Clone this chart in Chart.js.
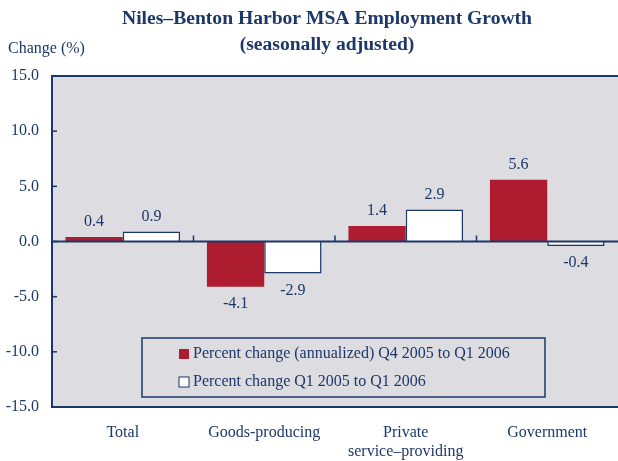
<!DOCTYPE html>
<html>
<head>
<meta charset="utf-8">
<script src="https://cdn.jsdelivr.net/npm/chart.js@4"></script>
<style>
  body { margin: 0; background: #fff; }
  #wrap { width: 618px; height: 461px; }
</style>
</head>
<body>
<div id="wrap"><canvas id="myChart" width="618" height="461"></canvas></div>
<script>
let categories = ['Total', 'Goods-producing', ['Private', 'service\u2013providing'], 'Government'];
let annualized = [0.4, -4.1, 1.4, 5.6];
let yearOverYear = [0.9, -2.9, 2.9, -0.4];
let seriesNames = ['Percent change (annualized) Q4 2005 to Q1 2006', 'Percent change Q1 2005 to Q1 2006'];
let yTicks = [15, 10, 5, 0, -5, -10, -15];

const navy = '#1c3769';
const red = '#ae1c2f';
const plotBg = '#dcdce1';
const serif = '"Liberation Serif", "Times New Roman", serif';

const decor = {
    id: 'decor',
    beforeDraw(chart) {
        let c = chart.ctx, a = chart.chartArea;
        c.save();
        c.fillStyle = plotBg;
        c.fillRect(a.left, a.top, a.right - a.left, a.bottom - a.top);
        c.restore();
    },
    afterDatasetsDraw(chart) {
        let c = chart.ctx, a = chart.chartArea;
        let y = chart.scales.y;
        c.save();
        c.strokeStyle = navy;
        // frame: top, left, bottom
        c.lineWidth = 2;
        c.beginPath();
        c.moveTo(a.right, a.top); c.lineTo(a.left, a.top); c.lineTo(a.left, a.bottom); c.lineTo(a.right, a.bottom);
        c.stroke();
        // zero line
        let y0 = y.getPixelForValue(0);
        c.beginPath(); c.moveTo(a.left, y0); c.lineTo(a.right, y0); c.stroke();
        // inward ticks on y axis
        c.lineWidth = 1.5;
        yTicks.forEach(v => {
            let py = y.getPixelForValue(v);
            c.beginPath(); c.moveTo(a.left, py); c.lineTo(a.left + 5, py); c.stroke();
        });
        // category boundary ticks on zero line
        let step = (a.right - a.left) / categories.length;
        for (let i = 1; i < categories.length; i++) {
            let px = a.left + step * i;
            c.beginPath(); c.moveTo(px, y0); c.lineTo(px, y0 - 6); c.stroke();
        }
        // value labels
        c.fillStyle = navy;
        c.font = '16px ' + serif;
        c.textAlign = 'center';
        chart.data.datasets.forEach((ds, di) => {
            chart.getDatasetMeta(di).data.forEach((bar, i) => {
                let v = ds.data[i];
                if (v >= 0) {
                    c.textBaseline = 'bottom';
                    c.fillText(v.toFixed(1), bar.x, bar.y - 7);
                } else {
                    c.textBaseline = 'top';
                    c.fillText(v.toFixed(1), bar.x, bar.y + 9);
                }
            });
        });
        // legend box
        let lx = 142, ly = 338, lw = 403, lh = 59;
        c.lineWidth = 1.5;
        c.strokeRect(lx, ly, lw, lh);
        c.textAlign = 'left';
        c.textBaseline = 'middle';
        c.font = '16px ' + serif;
        chart.data.datasets.forEach((ds, di) => {
            let cy = ly + 16 + di * 28;
            c.fillStyle = ds.backgroundColor;
            c.fillRect(179, cy - 5, 10, 10);
            if (di === 1) { c.lineWidth = 1; c.strokeRect(179, cy - 5, 10, 10); }
            c.fillStyle = navy;
            c.fillText(seriesNames[di], 193, cy);
        });
        // titles
        c.textAlign = 'center';
        c.textBaseline = 'middle';
        c.font = 'bold 19.6px ' + serif;
        c.fillText('Niles\u2013Benton Harbor MSA Employment Growth', 327, 19);
        c.fillText('(seasonally adjusted)', 327, 45);
        c.textAlign = 'left';
        c.font = '16px ' + serif;
        c.fillText('Change (%)', 8, 49);
        c.restore();
    }
};

new Chart(document.getElementById('myChart'), {
    type: 'bar',
    data: {
        labels: categories,
        datasets: [{
            label: seriesNames[0],
            data: annualized,
            backgroundColor: red,
            borderWidth: 0
        }, {
            label: seriesNames[1],
            data: yearOverYear,
            backgroundColor: '#ffffff',
            borderColor: navy,
            borderWidth: 1.5
        }]
    },
    options: {
        responsive: false,
        animation: false,
        layout: { padding: { top: 76, right: 0, left: 0, bottom: 0 } },
        categoryPercentage: 0.81,
        barPercentage: 1.0,
        plugins: { legend: { display: false }, title: { display: false }, tooltip: { enabled: false } },
        scales: {
            x: {
                afterFit(scale) { scale.height = 54; },
                grid: { display: false, drawTicks: false },
                border: { display: false },
                ticks: { color: navy, font: { family: serif, size: 16 }, padding: 16, maxRotation: 0 }
            },
            y: {
                min: -15, max: 15,
                afterFit(scale) { scale.width = 52; },
                afterBuildTicks(scale) { scale.ticks = yTicks.map(v => ({ value: v })); },
                grid: { display: false, drawTicks: false },
                border: { display: false },
                ticks: { color: navy, font: { family: serif, size: 16 }, padding: 13, callback: v => v.toFixed(1) }
            }
        }
    },
    plugins: [decor]
});
</script>
</body>
</html>
